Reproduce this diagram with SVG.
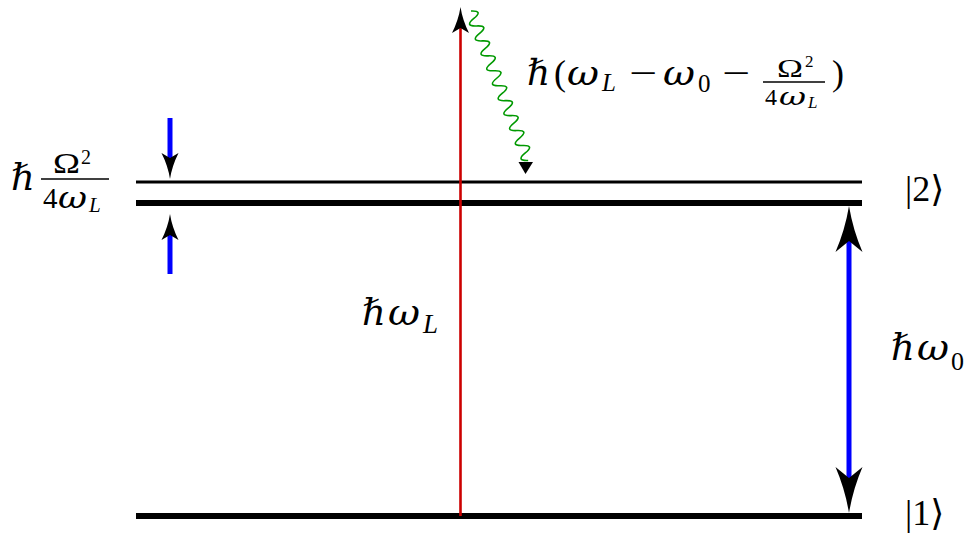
<svg xmlns="http://www.w3.org/2000/svg" xmlns:xlink="http://www.w3.org/1999/xlink" width="965" height="535" viewBox="0 0 965 535">
  <style>
    text { font-family: "Liberation Serif", "DejaVu Serif", serif; fill: #000; }
    .i { font-style: italic; }
    .r { font-style: normal; }
    .g { font-family: "DejaVu Serif", serif; font-style: italic; }
    .lvl { stroke: #000; fill: none; }
    .bar { stroke: #000; stroke-width: 1.4; }
    .blue { stroke: #0000ff; stroke-width: 5; fill: none; }
    .red { stroke: #cc0000; stroke-width: 2.6; fill: none; }
    .wave { stroke: #009900; stroke-width: 1.6; fill: none; }
    .head { fill: #000; }
  </style>
  <defs>
    <path id="hs" d="M0,0 Q2,13 8.5,26 L0,21 L-8.5,26 Q-2,13 0,0 Z"/>
    <path id="hb" d="M0,0 Q4,24 13.5,46 L0,35 L-13.5,46 Q-4,24 0,0 Z"/>
  </defs>

  <g id="level-2">
    <line class="lvl" x1="136" y1="182" x2="862" y2="182" stroke-width="3"/>
    <line class="lvl" x1="136" y1="203" x2="862" y2="203" stroke-width="6"/>
    <text x="905" y="201" font-size="36" class="r">|2⟩</text>
  </g>

  <g id="level-1">
    <line class="lvl" x1="136" y1="516" x2="862" y2="516" stroke-width="6"/>
    <text x="905" y="525" font-size="36" class="r">|1⟩</text>
  </g>

  <g id="shift-label">
    <text x="11" y="190" font-size="37" class="g">ℏ</text>
    <line class="bar" x1="41" y1="179" x2="109" y2="179"/>
    <text y="172.5" font-size="30" class="r"><tspan x="53" textLength="27" lengthAdjust="spacingAndGlyphs">Ω</tspan><tspan x="81" y="164" font-size="20">2</tspan></text>
    <text y="208" font-size="29"><tspan x="43" class="r">4</tspan><tspan x="58" class="g" textLength="29" lengthAdjust="spacingAndGlyphs">ω</tspan><tspan x="89" y="212" font-size="21" class="i">L</tspan></text>
  </g>

  <g id="laser-label">
    <text y="325" font-size="37"><tspan x="362" class="g">ℏ</tspan><tspan x="388" class="g" textLength="32" lengthAdjust="spacingAndGlyphs">ω</tspan><tspan x="423" y="333" font-size="27" class="i">L</tspan></text>
  </g>

  <g id="transition-label">
    <text y="360" font-size="37"><tspan x="891" class="g">ℏ</tspan><tspan x="917" class="g" textLength="32" lengthAdjust="spacingAndGlyphs">ω</tspan><tspan x="951" y="370" font-size="26" class="r">0</tspan></text>
  </g>

  <g id="emission-label">
    <text y="85" font-size="36"><tspan x="527" class="g">ℏ</tspan><tspan x="554" class="r">(</tspan><tspan x="567" class="g" textLength="32" lengthAdjust="spacingAndGlyphs">ω</tspan><tspan x="602" y="91" font-size="25" class="i">L</tspan><tspan x="629" y="85" class="r" textLength="28" lengthAdjust="spacingAndGlyphs">−</tspan><tspan x="663" class="g" textLength="32" lengthAdjust="spacingAndGlyphs">ω</tspan><tspan x="698" y="92" font-size="25" class="r">0</tspan><tspan x="722" y="85" class="r" textLength="28" lengthAdjust="spacingAndGlyphs">−</tspan><tspan x="832" class="r">)</tspan></text>
    <line class="bar" x1="763" y1="82" x2="825" y2="82"/>
    <text y="77" font-size="25" class="r"><tspan x="777" textLength="26" lengthAdjust="spacingAndGlyphs">Ω</tspan><tspan x="805" y="67" font-size="17">2</tspan></text>
    <text y="105" font-size="24"><tspan x="765" class="r">4</tspan><tspan x="779" class="g" textLength="27" lengthAdjust="spacingAndGlyphs">ω</tspan><tspan x="808" y="108" font-size="17" class="i">L</tspan></text>
  </g>

  <g id="connectors">
    <!-- laser photon (red) -->
    <line class="red" x1="460.5" y1="516" x2="460.5" y2="28"/>
    <use xlink:href="#hs" href="#hs" class="head" transform="translate(460.5,7)"/>
    <!-- level shift arrows (blue) -->
    <line class="blue" x1="170" y1="118" x2="170" y2="160"/>
    <use xlink:href="#hs" href="#hs" class="head" transform="translate(170,179) rotate(180)"/>
    <line class="blue" x1="170" y1="233" x2="170" y2="274"/>
    <use xlink:href="#hs" href="#hs" class="head" transform="translate(170,214)"/>
    <!-- transition double arrow (blue) -->
    <line class="blue" x1="849" y1="240" x2="849" y2="479"/>
    <use xlink:href="#hb" href="#hb" class="head" transform="translate(849,206)"/>
    <use xlink:href="#hb" href="#hb" class="head" transform="translate(849,513) rotate(180)"/>
    <!-- emitted photon (green wavy) -->
    <path class="wave" transform="translate(471,11) rotate(69.07)" d="M0,0 Q4,-12 8,0 T16,0 T24,0 T32,0 T40,0 T48,0 T56,0 T64,0 T72,0 T80,0 T88,0 T96,0 T104,0 T112,0 T120,0 T128,0 T136,0 T144,0 T152,0 T160,0"/>
    <polygon class="head" points="518.5,162 533,162 525.5,174"/>
  </g>
</svg>
